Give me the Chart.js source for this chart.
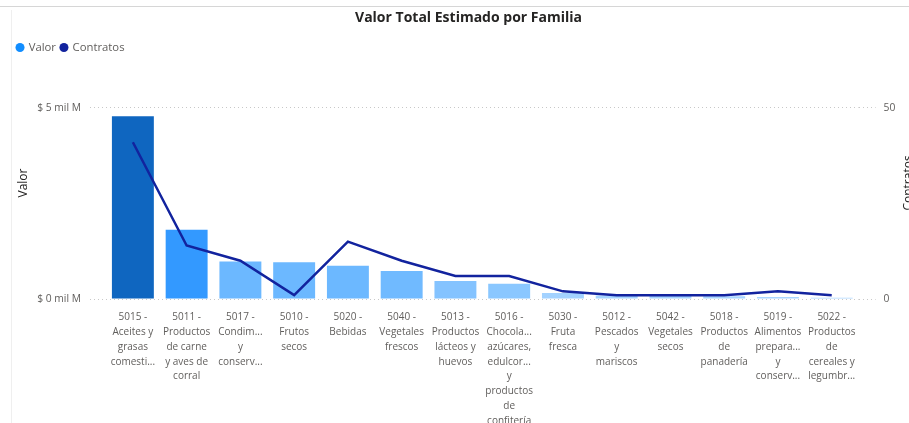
<!DOCTYPE html>
<html lang="es">
<head>
<meta charset="utf-8">
<title>Valor Total Estimado por Familia</title>
<script src="https://cdn.jsdelivr.net/npm/chart.js@4.4.1/dist/chart.umd.min.js"></script>
<style>
  html, body { margin: 0; padding: 0; background: #fff; }
  #marco { position: relative; width: 909px; height: 423px; overflow: hidden; }
  #lineaSup { position: absolute; left: 0; top: 6px; width: 909px; height: 1px; background: #d6d6d6; }
  #lineaIzq { position: absolute; left: 11px; top: 10px; width: 1px; height: 413px; background: #efefef; }
  #lienzo { position: absolute; left: 0; top: 0; width: 925px; height: 423px; }
</style>
</head>
<body>
<div id="marco">
  <div id="lineaSup"></div>
  <div id="lineaIzq"></div>
  <div id="lienzo"><canvas id="grafico"></canvas></div>
</div>
<script>
// Datos
const familias = [
  ['5015 -', 'Aceites y', 'grasas', 'comesti...'],
  ['5011 -', 'Productos', 'de carne', 'y aves de', 'corral'],
  ['5017 -', 'Condim...', 'y', 'conserv...'],
  ['5010 -', 'Frutos', 'secos'],
  ['5020 -', 'Bebidas'],
  ['5040 -', 'Vegetales', 'frescos'],
  ['5013 -', 'Productos', 'lácteos y', 'huevos'],
  ['5016 -', 'Chocola...', 'azúcares,', 'edulcor...', 'y', 'productos', 'de', 'confitería'],
  ['5030 -', 'Fruta', 'fresca'],
  ['5012 -', 'Pescados', 'y', 'mariscos'],
  ['5042 -', 'Vegetales', 'secos'],
  ['5018 -', 'Productos', 'de', 'panadería'],
  ['5019 -', 'Alimentos', 'prepara...', 'y', 'conserv...'],
  ['5022 -', 'Productos', 'de', 'cereales y', 'legumbr...']
];

// Valor en miles de millones de pesos
const valor = [4.78, 1.81, 0.98, 0.96, 0.87, 0.73, 0.47, 0.40, 0.16, 0.09, 0.08, 0.07, 0.05, 0.03];

// Numero de contratos
const contratos = [41, 14, 10, 1, 15, 10, 6, 6, 2, 1, 1, 1, 2, 1];

const ticksValor = [0, 5];
const ticksContratos = [0, 50];

// Colores de las barras (degradado segun valor)
const coloresBarras = ['#0F66C0', '#3399FF', '#6CB8FF', '#6CB8FF', '#6CB8FF', '#70BAFF',
  '#84C3FF', '#8AC7FF', '#A3D2FF', '#A6D4FF', '#A6D4FF', '#A8D5FF', '#AAD6FF', '#ADD7FF'];

const grisTexto = '#605E5C';
const grisGrid = '#C8C8C8';

Chart.defaults.font.family = "'Open Sans', 'Noto Sans', sans-serif";

// Alto fijo de la leyenda para que el area del grafico empiece donde toca
const alturaLeyenda = {
  id: 'alturaLeyenda',
  beforeInit(chart) {
    const fitOriginal = chart.legend.fit;
    chart.legend.fit = function () {
      fitOriginal.call(this);
      this.height = 71;
    };
  }
};

// Titulos de los ejes, centrados como en Power BI
const titulosEjes = {
  id: 'titulosEjes',
  afterDraw(chart) {
    const ctx = chart.ctx;
    ctx.save();
    ctx.fillStyle = '#252423';
    ctx.font = "12px 'Open Sans', sans-serif";
    ctx.textAlign = 'center';
    ctx.textBaseline = 'middle';
    [['Valor', 24], ['Contratos', 909]].forEach(([texto, x]) => {
      ctx.save();
      ctx.translate(x, 183);
      ctx.rotate(-Math.PI / 2);
      ctx.fillText(texto, 0, 0);
      ctx.restore();
    });
    ctx.restore();
  }
};

const ctx = document.getElementById('grafico').getContext('2d');

const grafico = new Chart(ctx, {
  data: {
    labels: familias,
    datasets: [
      {
        type: 'bar',
        label: 'Valor',
        data: valor,
        backgroundColor: coloresBarras,
        borderWidth: 0,
        categoryPercentage: 1,
        barPercentage: 0.78,
        yAxisID: 'y',
        order: 2
      },
      {
        type: 'line',
        label: 'Contratos',
        data: contratos,
        borderColor: '#12239E',
        backgroundColor: '#12239E',
        borderWidth: 2.5,
        pointRadius: 0,
        tension: 0,
        yAxisID: 'y1',
        order: 1
      }
    ]
  },
  options: {
    responsive: true,
    maintainAspectRatio: false,
    animation: false,
    layout: { padding: { left: 12, top: 0, right: 0, bottom: 0 } },
    plugins: {
      title: {
        display: true,
        text: 'Valor Total Estimado por Familia',
        color: '#252423',
        font: { size: 14, weight: 'bold' },
        padding: { top: 10, bottom: 10 }
      },
      legend: {
        position: 'top',
        align: 'start',
        labels: {
          usePointStyle: true,
          pointStyle: 'circle',
          boxWidth: 6,
          boxHeight: 6.4,
          padding: 5,
          color: grisTexto,
          font: { size: 11.3 },
          sort: (a, b) => a.datasetIndex - b.datasetIndex,
          generateLabels(chart) {
            const items = Chart.defaults.plugins.legend.labels.generateLabels(chart);
            items.forEach(item => {
              item.fillStyle = item.datasetIndex === 0 ? '#118DFF' : '#12239E';
              item.strokeStyle = item.fillStyle;
              item.lineWidth = 0;
            });
            return items;
          }
        }
      },
      tooltip: { enabled: true }
    },
    scales: {
      x: {
        grid: { display: false },
        border: { display: false },
        ticks: {
          color: grisTexto,
          font: { size: 10, lineHeight: 1.48 },
          autoSkip: false,
          maxRotation: 0,
          minRotation: 0,
          padding: 3
        },
        afterFit(scale) { scale.height = 124; }
      },
      y: {
        position: 'left',
        min: ticksValor[0],
        max: ticksValor[1],
        border: { display: false, dash: [1, 3] },
        grid: {
          color: grisGrid,
          drawTicks: true,
          tickLength: 16,
          tickColor: grisGrid,
          tickBorderDash: [1, 3]
        },
        ticks: {
          stepSize: ticksValor[1],
          color: grisTexto,
          font: { size: 10.3 },
          padding: 9,
          callback: v => '$ ' + v + ' mil M'
        },
        afterFit(scale) { scale.width = 94; }
      },
      y1: {
        position: 'right',
        min: ticksContratos[0],
        max: ticksContratos[1],
        border: { display: false },
        grid: {
          drawOnChartArea: false,
          drawTicks: true,
          tickLength: 17,
          color: grisGrid,
          tickColor: grisGrid,
          tickBorderDash: [1, 3]
        },
        ticks: {
          stepSize: ticksContratos[1],
          color: grisTexto,
          font: { size: 10.3 },
          padding: 8
        },
        afterFit(scale) { scale.width = 66.4; }
      }
    }
  },
  plugins: [alturaLeyenda, titulosEjes]
});
</script>
</body>
</html>
